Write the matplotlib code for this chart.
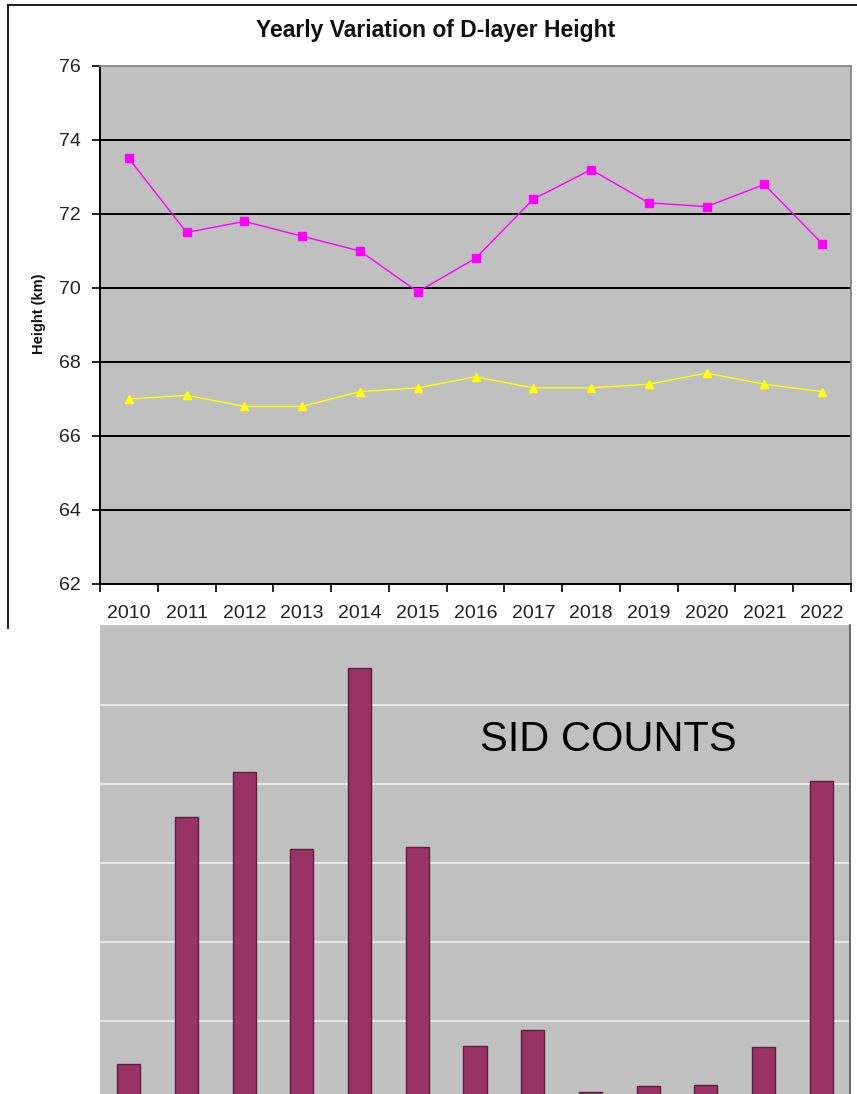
import numpy as np
import matplotlib
matplotlib.use("Agg")
import matplotlib.pyplot as plt
from matplotlib.lines import Line2D

plt.rcParams['font.family'] = ['Liberation Sans', 'DejaVu Sans']

years = ["2010", "2011", "2012", "2013", "2014", "2015", "2016",
         "2017", "2018", "2019", "2020", "2021", "2022"]
upper_height = [73.5, 71.5, 71.8, 71.4, 71.0, 69.9, 70.8, 72.4, 73.2, 72.3, 72.2, 72.8, 71.2]
lower_height = [67.0, 67.1, 66.8, 66.8, 67.2, 67.3, 67.6, 67.3, 67.3, 67.4, 67.7, 67.4, 67.2]
sid_counts = [4.6, 35.8, 41.5, 31.8, 54.7, 32.0, 6.8, 8.9, 1.0, 1.8, 1.9, 6.7, 40.3]
y_ticks = [62, 64, 66, 68, 70, 72, 74, 76]

W, H = 857, 1094
fig = plt.figure(figsize=(W / 100, H / 100), dpi=100)
fig.patch.set_facecolor("white")


def fx(px):
    return px / W


def fy(py):
    return 1 - py / H


# border of the top chart panel (top and left edges only)
fig.lines.append(Line2D([fx(8), 1.0], [fy(5), fy(5)], transform=fig.transFigure,
                        color="#222222", linewidth=1.5))
fig.lines.append(Line2D([fx(8), fx(8)], [fy(5), fy(628)], transform=fig.transFigure,
                        color="#222222", linewidth=1.5))

x = np.arange(len(years))

# ==== top chart: D-layer height ====
ax = fig.add_axes([fx(100), fy(584), fx(851) - fx(100), fy(66) - fy(584)])
ax.set_facecolor("#C0C0C0")
ax.plot(x, upper_height, color="#FF00FF", linewidth=1, marker="s", markersize=6, zorder=3)
ax.plot(x, lower_height, color="#FFFF00", linewidth=1, marker="^", markersize=6, zorder=3)
ax.set_xlim(-0.5, len(years) - 0.5)
ax.set_ylim(62, 76)
ax.set_yticks(y_ticks)
ax.set_yticklabels([str(t) for t in y_ticks], fontsize=14, color="#222222")
for t in y_ticks[1:-1]:
    ax.axhline(t, color="black", linewidth=1.4, zorder=1)
ax.set_xticks(x)
ax.set_xticklabels(years, fontsize=14, color="#222222")
ax.set_xticks(np.arange(-0.5, len(years)), minor=True)
ax.tick_params(axis="x", which="major", length=0, pad=15)
ax.tick_params(axis="x", which="minor", length=6, width=1.2, direction="out")
ax.tick_params(axis="y", length=6, width=1.2, direction="out", pad=8)
for s in ["left", "bottom"]:
    ax.spines[s].set_color("black")
    ax.spines[s].set_linewidth(1.4)
for s in ["top", "right"]:
    ax.spines[s].set_color("#808080")
    ax.spines[s].set_linewidth(1.2)

fig.text(fx(436), fy(31), "Yearly Variation of D-layer Height", ha="center", va="center",
         fontsize=16.5, fontweight="bold", color="#111111")
fig.text(fx(39), fy(314), "Height (km)", ha="center", va="center", rotation=90,
         fontsize=10.5, fontweight="bold", color="#111111")

# ==== bottom chart: SID counts ====
ax2 = fig.add_axes([fx(100), fy(1100), fx(850) - fx(100), fy(625) - fy(1100)])
ax2.set_facecolor("#C0C0C0")
ax2.bar(x, sid_counts, width=0.4, color="#993366", edgecolor="#5a2040", linewidth=1, zorder=3)
ax2.set_xlim(-0.5, len(years) - 0.5)
ax2.set_ylim(0, 60.1)
ax2.set_yticks([10, 20, 30, 40, 50])
ax2.grid(axis="y", color="#E6E6E6", linewidth=1.5, zorder=1)
ax2.set_xticks([])
ax2.tick_params(axis="y", length=0, labelleft=False)
for s in ["left", "top", "bottom"]:
    ax2.spines[s].set_visible(False)
ax2.spines["right"].set_color("#555555")
ax2.spines["right"].set_linewidth(1.2)
ax2.text(0.507, 0.758, "SID COUNTS", transform=ax2.transAxes, ha="left", va="center",
         fontsize=30, color="black")

fig.savefig("out.png", dpi=100)
